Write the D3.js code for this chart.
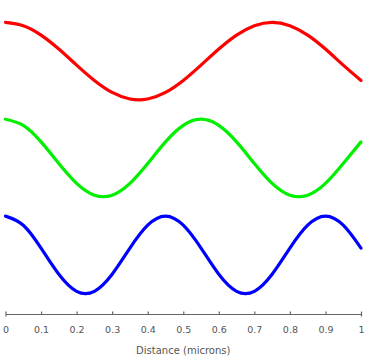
<!DOCTYPE html>
<html>
<head>
<meta charset="utf-8">
<script src="https://cdn.jsdelivr.net/npm/d3@7"></script>
<style>
  html, body { margin: 0; padding: 0; background: #fff; }
  svg text { font-family: "DejaVu Sans", sans-serif; }
</style>
</head>
<body>
<svg id="chart" width="376" height="360"></svg>
<script>
// distance samples (microns)
var distance = [0, 0.05, 0.1, 0.15, 0.2, 0.25, 0.3, 0.35, 0.4, 0.45, 0.5,
                0.55, 0.6, 0.65, 0.7, 0.75, 0.8, 0.85, 0.9, 0.95, 1];

// each wave offset vertically; peaks, troughs and end points
var redWave   = [2.400, 2.365, 2.268, 2.124, 1.958, 1.800, 1.676, 1.609, 1.609, 1.676, 1.800,
                 1.958, 2.124, 2.268, 2.365, 2.400, 2.365, 2.268, 2.124, 1.958, 1.800];
var greenWave = [1.400, 1.336, 1.166, 0.943, 0.738, 0.616, 0.616, 0.738, 0.943, 1.166, 1.336,
                 1.400, 1.336, 1.166, 0.943, 0.738, 0.616, 0.616, 0.738, 0.943, 1.166];
var blueWave  = [0.400, 0.306, 0.070, -0.200, -0.376, -0.376, -0.200, 0.070, 0.306, 0.400, 0.306,
                 0.070, -0.200, -0.376, -0.376, -0.200, 0.070, 0.306, 0.400, 0.306, 0.070];

var xTicks = [0, 0.1, 0.2, 0.3, 0.4, 0.5, 0.6, 0.7, 0.8, 0.9, 1];
var xLabel = "Distance (microns)";

var SERIES = [
  {name: "red",   values: redWave,   color: "#ff0000"},
  {name: "green", values: greenWave, color: "#00f000"},
  {name: "blue",  values: blueWave,  color: "#0000ff"}
];

var svg = d3.select("svg#chart");

var x = d3.scaleLinear().domain([0, 1]).range([5.5, 361]);
var y = d3.scaleLinear().domain([-0.61, 2.63]).range([314, 0]);

var line = d3.line()
  .x(function(d){ return x(d[0]); })
  .y(function(d){ return y(d[1]); })
  .curve(d3.curveNatural);

svg.selectAll("path.wave")
  .data(SERIES)
  .enter().append("path")
  .attr("class", "wave")
  .attr("fill", "none")
  .attr("stroke", function(d){ return d.color; })
  .attr("stroke-width", 3.2)
  .attr("stroke-linecap", "round")
  .attr("d", function(d){
    return line(distance.map(function(t, i){ return [t, d.values[i]]; }));
  });

//x axis
var axis = svg.append("g")
  .attr("transform", "translate(0,314)")
  .call(d3.axisBottom(x)
    .tickValues(xTicks)
    .tickFormat(d3.format("~g"))
    .tickSizeInner(-2.5)
    .tickSizeOuter(2.5)
    .tickPadding(12));

axis.select(".domain").attr("stroke", "#666").attr("stroke-width", 1.2);
axis.selectAll(".tick line").attr("stroke", "#666").attr("stroke-width", 1.2);
axis.selectAll(".tick text")
  .attr("fill", "#555")
  .style("font-size", "9.5px");

svg.append("text")
  .attr("x", x(0.5))
  .attr("y", 354)
  .attr("text-anchor", "middle")
  .attr("fill", "#555")
  .style("font-size", "10px")
  .text(xLabel);
</script>
</body>
</html>
